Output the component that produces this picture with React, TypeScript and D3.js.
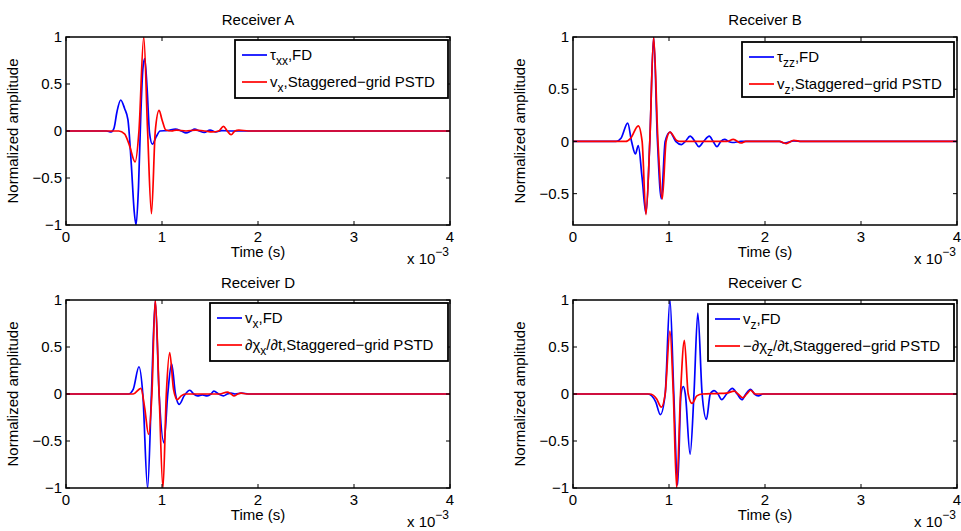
import * as d3 from 'd3';

// time axis in units of 1e-3 s
const timeTicks = [0, 1, 2, 3, 4];

// Receiver A
const aFdT = [0, 0.42, 0.47, 0.5, 0.53, 0.57, 0.61, 0.645, 0.68, 0.71, 0.73, 0.755, 0.78, 0.8, 0.82, 0.845, 0.87, 0.9, 0.94, 0.98, 1.06, 1.14, 1.2, 1.25, 1.3, 1.34, 1.39, 1.44, 1.5, 1.56, 1.62, 1.7, 4];
const aFdY = [0, 0, -0.01, 0.03, 0.2, 0.33, 0.24, 0.12, -0.35, -0.85, -1.0, -0.6, 0.2, 0.65, 0.77, 0.45, -0.02, -0.14, -0.06, 0, 0.005, 0.02, 0, -0.02, 0, 0.02, 0, -0.015, 0.01, -0.01, 0.005, 0, 0];
const aPsT = [0, 0.55, 0.61, 0.66, 0.72, 0.76, 0.81, 0.85, 0.89, 0.93, 0.97, 1.0, 1.04, 1.1, 1.15, 1.25, 1.35, 1.45, 1.52, 1.59, 1.64, 1.68, 1.72, 1.76, 1.8, 1.9, 4];
const aPsY = [0, 0, -0.03, -0.15, -0.33, 0, 1.0, 0, -0.88, 0, 0.22, 0.12, 0.01, 0, 0.01, 0, 0.01, 0, -0.01, 0, 0.05, 0, -0.04, 0, 0.01, 0, 0];

// Receiver B
const bFdT = [0, 0.45, 0.5, 0.57, 0.61, 0.65, 0.68, 0.72, 0.76, 0.8, 0.84, 0.88, 0.92, 0.96, 1.01, 1.07, 1.13, 1.17, 1.22, 1.27, 1.31, 1.36, 1.42, 1.46, 1.5, 1.54, 1.58, 1.62, 1.66, 1.75, 2.15, 2.2, 2.3, 2.38, 4];
const bFdY = [0, 0, 0.03, 0.175, 0, -0.12, -0.04, -0.35, -0.69, 0, 1.0, 0, -0.55, 0, 0.09, 0, -0.03, 0, 0.05, 0, -0.05, 0, 0.05, 0, -0.05, 0, 0.02, 0, -0.01, 0, 0, -0.015, 0.005, 0, 0];
const bPsT = [0, 0.55, 0.6, 0.68, 0.72, 0.76, 0.8, 0.84, 0.885, 0.93, 0.97, 1.01, 1.08, 1.12, 1.6, 1.67, 1.75, 1.8, 2.15, 2.22, 2.3, 2.38, 4];
const bPsY = [0, 0, 0.03, 0.15, 0, -0.7, 0, 1.0, 0, -0.55, 0, 0.09, 0.01, 0, 0, 0.02, -0.015, 0, 0, -0.02, 0.01, 0, 0];

// Receiver D
const dFdT = [0, 0.65, 0.7, 0.76, 0.8, 0.85, 0.89, 0.93, 0.97, 1.02, 1.06, 1.1, 1.14, 1.18, 1.23, 1.29, 1.33, 1.37, 1.42, 1.47, 1.51, 1.54, 1.59, 1.64, 1.68, 1.72, 1.76, 1.83, 1.9, 4];
const dFdY = [0, 0, 0.05, 0.29, 0, -1.0, 0, 0.99, 0, -0.52, 0, 0.32, 0, -0.11, -0.02, 0.04, 0, -0.02, -0.01, -0.02, 0, 0.03, 0, -0.02, 0, 0.01, 0, 0.01, 0, 0];
const dPsT = [0, 0.7, 0.78, 0.82, 0.86, 0.895, 0.93, 0.97, 1.01, 1.045, 1.08, 1.12, 1.16, 1.2, 1.24, 1.6, 1.68, 1.72, 1.75, 1.79, 1.82, 1.88, 4];
const dPsY = [0, 0, 0.06, -0.15, -0.43, 0, 1.0, 0, -1.0, 0, 0.44, 0.05, -0.06, -0.02, 0, 0, 0.02, 0, -0.02, 0, 0.01, 0, 0];

// Receiver C
const cFdT = [0, 0.78, 0.86, 0.91, 0.96, 1.01, 1.05, 1.09, 1.125, 1.15, 1.17, 1.22, 1.26, 1.3, 1.345, 1.39, 1.43, 1.47, 1.51, 1.55, 1.6, 1.66, 1.71, 1.76, 1.8, 1.85, 1.89, 1.93, 1.98, 4];
const cFdY = [0, 0, -0.08, -0.22, 0, 1.0, 0, -0.97, 0, 0.08, 0, -0.64, 0, 0.86, 0, -0.27, 0, 0.035, 0, -0.06, 0, 0.06, 0, -0.06, 0, 0.05, 0, -0.02, 0, 0];
const cPsT = [0, 0.8, 0.87, 0.92, 0.96, 1.01, 1.045, 1.08, 1.12, 1.16, 1.2, 1.24, 1.29, 1.35, 1.5, 1.6, 1.68, 1.72, 1.77, 1.81, 1.85, 1.9, 4];
const cPsY = [0, 0, -0.05, -0.14, 0, 0.67, 0, -1.0, 0, 0.57, 0, -0.1, -0.02, 0, 0.005, 0.01, 0.03, 0, -0.04, 0, 0.04, 0, 0];

type Seg = [string, number];

const panels = [
  {
    title: 'Receiver A', left: 66, top: 37, yMin: -1, yTicks: [-1, -0.5, 0, 0.5, 1],
    fd: [aFdT, aFdY], ps: [aPsT, aPsY],
    legend: { x: 235, y: 40, w: 213, h: 58, fd: [['τ', 0], ['xx', 1], [',FD', 0]] as Seg[], ps: [['v', 0], ['x', 1], [',Staggered−grid PSTD', 0]] as Seg[] },
  },
  {
    title: 'Receiver B', left: 573, top: 37, yMin: -0.8, yTicks: [-0.5, 0, 0.5, 1],
    fd: [bFdT, bFdY], ps: [bPsT, bPsY],
    legend: { x: 742, y: 42, w: 212, h: 55, fd: [['τ', 0], ['zz', 1], [',FD', 0]] as Seg[], ps: [['v', 0], ['z', 1], [',Staggered−grid PSTD', 0]] as Seg[] },
  },
  {
    title: 'Receiver D', left: 66, top: 300, yMin: -1, yTicks: [-1, -0.5, 0, 0.5, 1],
    fd: [dFdT, dFdY], ps: [dPsT, dPsY],
    legend: { x: 210, y: 303, w: 238, h: 58, fd: [['v', 0], ['x', 1], [',FD', 0]] as Seg[], ps: [['∂χ', 0], ['x', 1], ['/∂t,Staggered−grid PSTD', 0]] as Seg[] },
  },
  {
    title: 'Receiver C', left: 573, top: 300, yMin: -1, yTicks: [-1, -0.5, 0, 0.5, 1],
    fd: [cFdT, cFdY], ps: [cPsT, cPsY],
    legend: { x: 708, y: 304, w: 246, h: 57, fd: [['v', 0], ['z', 1], [',FD', 0]] as Seg[], ps: [['−∂χ', 0], ['z', 1], ['/∂t,Staggered−grid PSTD', 0]] as Seg[] },
  },
];

const W = 384;
const H = 188;
const FONT = '"Liberation Sans", Arial, Helvetica, sans-serif';

const fmt = (v: number) => (v < 0 ? '−' + String(-v) : String(v));

function LegendText({ segs, x, y }: { segs: Seg[]; x: number; y: number }) {
  const parts: any[] = [];
  let prevSub = 0;
  segs.forEach(([s, sub], i) => {
    const dy = sub === prevSub ? 0 : sub ? 5 : -5;
    parts.push(
      <tspan key={i} dy={dy} fontSize={sub ? 12 : 15}>{s}</tspan>
    );
    prevSub = sub;
  });
  return <text x={x} y={y} fontFamily={FONT} fontSize={15} fill="#000">{parts}</text>;
}

function Panel({ p, idx }: { p: typeof panels[number]; idx: number }) {
  const x = d3.scaleLinear().domain([0, 4]).range([0, W]);
  const y = d3.scaleLinear().domain([p.yMin, 1]).range([H, 0]);
  const line = d3.line<[number, number]>()
    .x(d => x(d[0]))
    .y(d => y(d[1]))
    .curve(d3.curveMonotoneX);
  const fdPts = p.fd[0].map((t, i) => [t, p.fd[1][i]] as [number, number]);
  const psPts = p.ps[0].map((t, i) => [t, p.ps[1][i]] as [number, number]);
  const lg = p.legend;
  const clipId = 'clip' + idx;
  return (
    <g>
      <text x={p.left + W / 2} y={p.top - 12} textAnchor="middle" fontFamily={FONT} fontSize={15}>{p.title}</text>
      <g transform={`translate(${p.left},${p.top})`}>
        <defs>
          <clipPath id={clipId}><rect x={0} y={0} width={W} height={H} /></clipPath>
        </defs>
        <g clipPath={`url(#${clipId})`}>
          <path d={line(fdPts) || ''} fill="none" stroke="#0000ff" strokeWidth={1.7} />
          <path d={line(psPts) || ''} fill="none" stroke="#ff0000" strokeWidth={1.7} />
        </g>
        {/* ticks */}
        {timeTicks.map(t => (
          <g key={'xt' + t}>
            <line x1={x(t)} x2={x(t)} y1={H} y2={H - 4} stroke="#000" />
            <line x1={x(t)} x2={x(t)} y1={0} y2={4} stroke="#000" />
            <text x={x(t)} y={H + 17} textAnchor="middle" fontFamily={FONT} fontSize={15}>{t}</text>
          </g>
        ))}
        {p.yTicks.map(v => (
          <g key={'yt' + v}>
            <line x1={0} x2={4} y1={y(v)} y2={y(v)} stroke="#000" />
            <line x1={W} x2={W - 4} y1={y(v)} y2={y(v)} stroke="#000" />
            <text x={-4} y={y(v)} dy="0.35em" textAnchor="end" fontFamily={FONT} fontSize={15}>{fmt(v)}</text>
          </g>
        ))}
        <rect x={0} y={0} width={W} height={H} fill="none" stroke="#000" strokeWidth={1.5} />
        <text x={W / 2} y={H + 32} textAnchor="middle" fontFamily={FONT} fontSize={15}>Time (s)</text>
        <text x={W - 43} y={H + 39} fontFamily={FONT} fontSize={15}>x 10<tspan dy={-8} fontSize={12}>−3</tspan></text>
        <text transform={`translate(-48,${H / 2}) rotate(-90)`} textAnchor="middle" fontFamily={FONT} fontSize={15}>Normalized amplitude</text>
      </g>
      {/* legend */}
      <g>
        <rect x={lg.x} y={lg.y} width={lg.w} height={lg.h} fill="#fff" stroke="#000" strokeWidth={1.8} />
        <line x1={lg.x + 7} x2={lg.x + 32} y1={lg.y + 15} y2={lg.y + 15} stroke="#0000ff" strokeWidth={1.7} />
        <line x1={lg.x + 7} x2={lg.x + 32} y1={lg.y + 42} y2={lg.y + 42} stroke="#ff0000" strokeWidth={1.7} />
        <LegendText segs={lg.fd} x={lg.x + 35} y={lg.y + 20} />
        <LegendText segs={lg.ps} x={lg.x + 35} y={lg.y + 47} />
      </g>
    </g>
  );
}

export default function App() {
  return (
    <svg width={961} height={531} style={{ position: 'absolute', left: 0, top: 0, background: '#fff' }}>
      <rect width={961} height={531} fill="#fff" />
      {panels.map((p, i) => <Panel key={i} p={p} idx={i} />)}
    </svg>
  );
}
